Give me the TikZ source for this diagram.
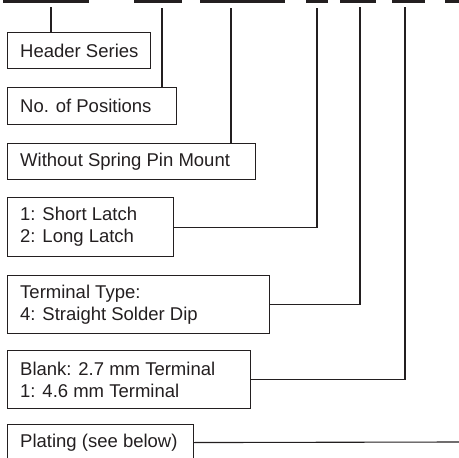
\documentclass[tikz,border=0pt]{standalone}
\usepackage{fontspec}
\setmainfont{Liberation Sans}
\definecolor{ink}{HTML}{231F20}
\begin{document}
\begin{tikzpicture}[x=1pt,y=-1pt,
  boxshape/.style={draw=ink, line width=1.1pt, anchor=north west, inner sep=0pt},
  lbl/.style={anchor=west, inner sep=0pt, align=left, text=ink,
    font=\fontsize{18.5}{22}\selectfont},
  bar/.style={draw=ink, line width=2.6pt},
  conn/.style={draw=ink, line width=1.1pt}]
\useasboundingbox (0,0) rectangle (459,458);
% top bars
\coordinate (b1a) at (3,1.4);   \coordinate (b1b) at (89,1.4);
\coordinate (b2a) at (134,1.4); \coordinate (b2b) at (182,1.4);
\coordinate (b3a) at (200,1.4); \coordinate (b3b) at (285,1.4);
\coordinate (b4a) at (306,1.4); \coordinate (b4b) at (328,1.4);
\coordinate (b5a) at (340,1.4); \coordinate (b5b) at (376,1.4);
\coordinate (b6a) at (392,1.4); \coordinate (b6b) at (425,1.4);
\coordinate (b7a) at (445,1.4); \coordinate (b7b) at (460,1.4);
\foreach \i in {1,...,7} {\draw[bar] (b\i a) -- (b\i b);}
% boxes
\node[boxshape, minimum width=143pt, minimum height=36pt] (hs) at (7,32) {};
\node[lbl] (hst) at ([xshift=13pt]hs.west) {Header Series};
\node[boxshape, minimum width=169pt, minimum height=37pt] (np) at (7,87) {};
\node[lbl] (npt) at ([xshift=13pt]np.west) {No. of Positions};
\node[boxshape, minimum width=248pt, minimum height=36pt] (ws) at (7,143) {};
\node[lbl] (wst) at ([xshift=13pt]ws.west) {Without Spring Pin Mount};
\node[boxshape, minimum width=166pt, minimum height=59pt] (la) at (7,197) {};
\node[lbl] (lat) at ([xshift=13pt]la.west) {1: Short Latch\\2: Long Latch};
\node[boxshape, minimum width=262pt, minimum height=58pt] (tt) at (7,275) {};
\node[lbl] (ttt) at ([xshift=13pt]tt.west) {Terminal Type:\\4: Straight Solder Dip};
\node[boxshape, minimum width=243pt, minimum height=58pt] (bl) at (7,350) {};
\node[lbl] (blt) at ([xshift=13pt]bl.west) {Blank: 2.7 mm Terminal\\1: 4.6 mm Terminal};
\node[boxshape, minimum width=186pt, minimum height=36pt] (pl) at (7,424) {};
\node[lbl] (plt) at ([xshift=13pt]pl.west) {Plating (see below)};
% connector start points
\coordinate (t1) at (51,7);
\coordinate (t2) at (162,8);
\coordinate (t3) at (231,8);
\coordinate (t4) at (317,8);
\coordinate (t5) at (360,7);
\coordinate (t6) at (405,7);
\coordinate (t7) at (460,442);
\draw[conn] (t1) -- (t1 |- hs.north);
\draw[conn] (t2) -- (t2 |- np.north);
\draw[conn] (t3) -- (t3 |- ws.north);
\draw[conn] (t4) |- (la.east);
\draw[conn] (t5) |- (tt.east);
\draw[conn] (t6) |- (bl.east);
\draw[conn] (pl.east) -- (t7);
\end{tikzpicture}
\end{document}
